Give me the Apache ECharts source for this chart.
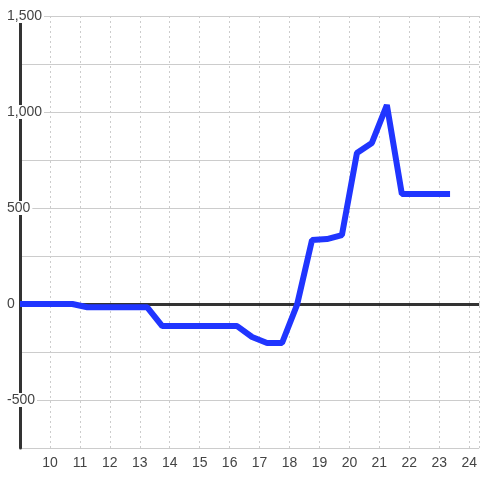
<!DOCTYPE html>
<html>
<head>
<meta charset="utf-8">
<script src="https://cdn.jsdelivr.net/npm/echarts@6/dist/echarts.min.js"></script>
<style>
  html, body { margin: 0; padding: 0; background: #fff; }
  #chart { width: 480px; height: 480px; }
</style>
</head>
<body>
<div id="chart"></div>
<script>
var hours = [9, 10.75, 11.25, 13.25, 13.75, 16.25, 16.75, 17.25, 17.75, 18.25, 18.75, 19.25, 19.75, 20.25, 20.75, 21.25, 21.75, 23.36];
var values = [0, 0, -17, -17, -115, -115, -172, -203, -203, -5, 333, 338, 359, 786, 839, 1036, 573, 573];

var chart = echarts.init(document.getElementById('chart'));

var option = {
    animation: false,
    grid: { left: 20, right: 0, top: 16, bottom: 32 },
    xAxis: {
        type: 'value',
        min: 9,
        max: 24.333,
        interval: 1,
        axisLine: { show: false },
        axisTick: { show: false },
        axisLabel: {
            color: '#444',
            fontSize: 14,
            margin: 8,
            showMinLabel: false,
            showMaxLabel: false
        },
        splitLine: { lineStyle: { color: '#ccc', type: [2, 3] } }
    },
    yAxis: {
        type: 'value',
        min: -750,
        max: 1500,
        interval: 250,
        axisLine: { show: true, lineStyle: { color: '#333', width: 3 } },
        axisTick: { show: false },
        axisLabel: {
            color: '#444',
            fontSize: 14,
            margin: 15,
            align: 'left',
            backgroundColor: '#fff',
            padding: [0, 2],
            formatter: function (v) {
                if (v % 500 !== 0) return '';
                return v.toLocaleString('en-US');
            }
        },
        splitLine: { lineStyle: { color: '#ccc', width: 1 } }
    },
    series: [
        {
            // zero line, kept under the blue line
            type: 'line',
            data: [],
            markLine: {
                z: 1,
                silent: true,
                symbol: 'none',
                label: { show: false },
                lineStyle: { color: '#333', width: 3, type: 'solid' },
                data: [{ yAxis: 0 }]
            }
        },
        {
            type: 'line',
            z: 3,
            data: hours.map(function (h, i) { return [h, values[i]]; }),
            showSymbol: false,
            lineStyle: { color: '#2035ff', width: 6, cap: 'butt' }
        }
    ]
};

chart.setOption(option);
</script>
</body>
</html>
